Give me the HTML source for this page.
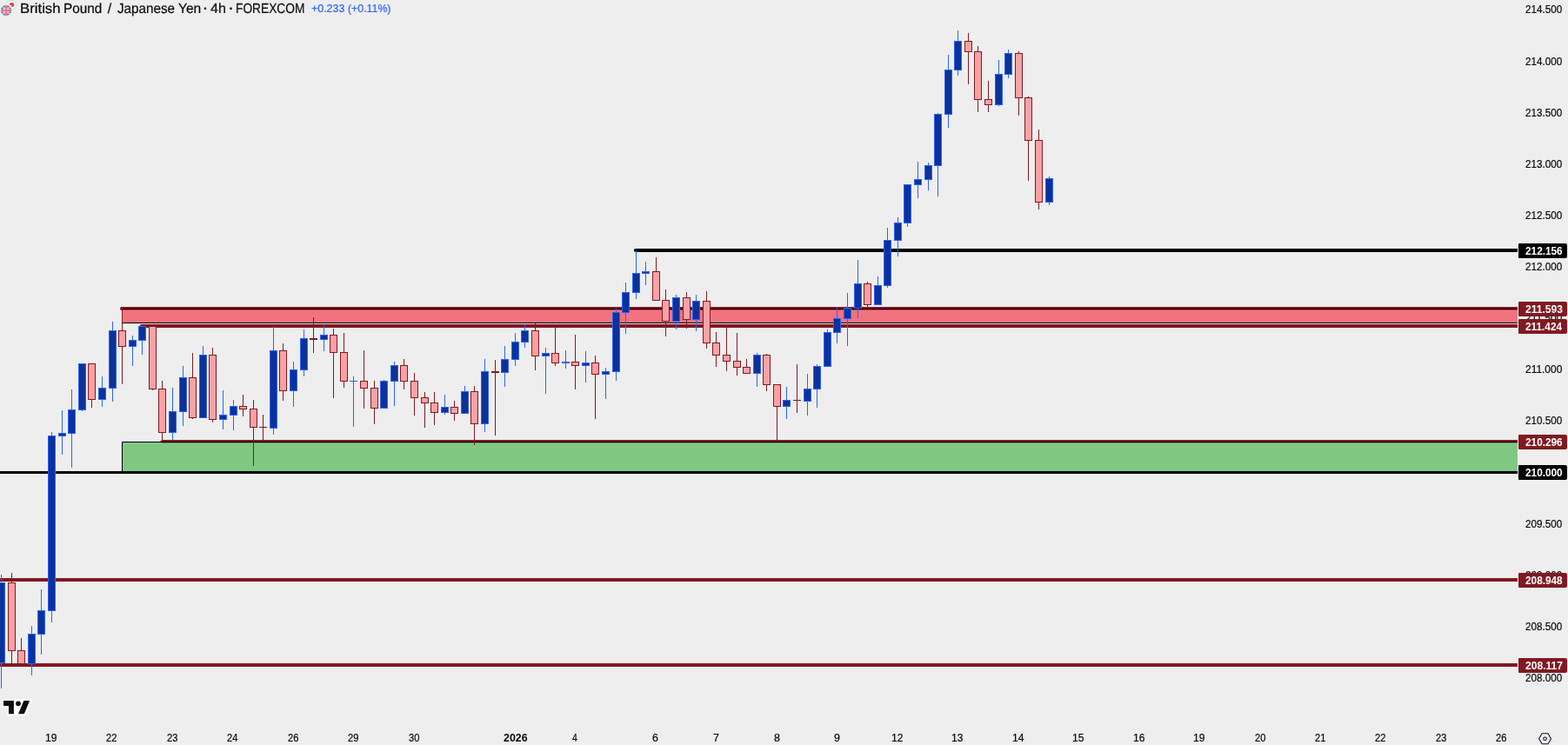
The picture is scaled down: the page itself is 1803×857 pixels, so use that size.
<!DOCTYPE html>
<html lang="en"><head><meta charset="utf-8"><title>GBPJPY 4h chart</title>
<style>
html,body{margin:0;padding:0;background:#eeeeee;}
body{width:1803px;height:857px;overflow:hidden;position:relative;font-family:"Liberation Sans", sans-serif;color:#131722;}
#c{position:absolute;left:0;top:0;width:1803px;height:857px;overflow:hidden;background:#eeeeee;}
svg{position:absolute;left:0;top:0;display:block}
.pb{position:absolute;left:1746px;width:56px;height:17px;border-radius:1px 2px 2px 1px}
.t{position:absolute;line-height:20px;white-space:nowrap;transform-origin:0 0;display:block;-webkit-text-stroke:0.22px currentColor}
</style></head>
<body><div id="c">
<svg width="1803" height="857" viewBox="0 0 1803 857">
<rect x="0" y="665" width="1745" height="4" fill="#801922"/>
<rect x="0" y="763" width="1745" height="4" fill="#801922"/>
<rect x="140.5" y="508.5" width="1607.5" height="35" fill="#81c784" stroke="#000" stroke-width="1"/>
<rect x="0" y="542" width="1745" height="3" fill="#000"/>
<path d="M186 506 H1745 V508 H184 Z" fill="#801922"/>
<rect x="185" y="508" width="1560" height="1" fill="#000"/>
<rect x="186" y="509" width="1559" height="1" fill="#6f9a5c"/>
<path d="M139.9 355 H1747" stroke="#801922" stroke-width="4" stroke-linecap="round" fill="none"/>
<rect x="140.5" y="355.5" width="1607.5" height="16" fill="#f1737f" stroke="#000" stroke-width="1"/>
<rect x="141" y="356" width="1604" height="1" fill="#e03a4a"/>
<path d="M162.9 375 H1747" stroke="#801922" stroke-width="4" stroke-linecap="round" fill="none"/>
<path d="M730.9 288 H1747" stroke="#000" stroke-width="4" stroke-linecap="round" fill="none"/>
<g shape-rendering="crispEdges">
<rect x="1" y="661" width="1" height="9" fill="#2962ff"/>
<rect x="1" y="763" width="1" height="29" fill="#2962ff"/>
<rect x="0" y="670" width="6" height="93" fill="#2962ff"/>
<rect x="0" y="671" width="5" height="91" fill="#0c3299"/>
<rect x="13" y="659" width="1" height="11" fill="#801922"/>
<rect x="13" y="749" width="1" height="16" fill="#801922"/>
<rect x="9" y="670" width="9" height="79" fill="#801922"/>
<rect x="10" y="671" width="7" height="77" fill="#faa1a4"/>
<rect x="24" y="734" width="1" height="14" fill="#801922"/>
<rect x="20" y="748" width="9" height="16" fill="#801922"/>
<rect x="21" y="749" width="7" height="14" fill="#faa1a4"/>
<rect x="36" y="720" width="1" height="9" fill="#2962ff"/>
<rect x="36" y="764" width="1" height="13" fill="#2962ff"/>
<rect x="32" y="729" width="9" height="35" fill="#2962ff"/>
<rect x="33" y="730" width="7" height="33" fill="#0c3299"/>
<rect x="47" y="678" width="1" height="24" fill="#2962ff"/>
<rect x="47" y="730" width="1" height="23" fill="#2962ff"/>
<rect x="43" y="702" width="9" height="28" fill="#2962ff"/>
<rect x="44" y="703" width="7" height="26" fill="#0c3299"/>
<rect x="59" y="497" width="1" height="4" fill="#2962ff"/>
<rect x="59" y="703" width="1" height="13" fill="#2962ff"/>
<rect x="55" y="501" width="9" height="202" fill="#2962ff"/>
<rect x="56" y="502" width="7" height="200" fill="#0c3299"/>
<rect x="71" y="472" width="1" height="26" fill="#2962ff"/>
<rect x="71" y="502" width="1" height="21" fill="#2962ff"/>
<rect x="67" y="498" width="9" height="4" fill="#2962ff"/>
<rect x="68" y="499" width="7" height="2" fill="#0c3299"/>
<rect x="82" y="448" width="1" height="23" fill="#2962ff"/>
<rect x="82" y="499" width="1" height="39" fill="#2962ff"/>
<rect x="78" y="471" width="9" height="28" fill="#2962ff"/>
<rect x="79" y="472" width="7" height="26" fill="#0c3299"/>
<rect x="94" y="472" width="1" height="1" fill="#2962ff"/>
<rect x="90" y="418" width="9" height="54" fill="#2962ff"/>
<rect x="91" y="419" width="7" height="52" fill="#0c3299"/>
<rect x="105" y="460" width="1" height="9" fill="#801922"/>
<rect x="101" y="418" width="9" height="42" fill="#801922"/>
<rect x="102" y="419" width="7" height="40" fill="#faa1a4"/>
<rect x="117" y="433" width="1" height="13" fill="#2962ff"/>
<rect x="117" y="460" width="1" height="8" fill="#2962ff"/>
<rect x="113" y="446" width="9" height="14" fill="#2962ff"/>
<rect x="114" y="447" width="7" height="12" fill="#0c3299"/>
<rect x="129" y="370" width="1" height="10" fill="#2962ff"/>
<rect x="129" y="447" width="1" height="15" fill="#2962ff"/>
<rect x="125" y="380" width="9" height="67" fill="#2962ff"/>
<rect x="126" y="381" width="7" height="65" fill="#0c3299"/>
<rect x="140" y="355" width="1" height="25" fill="#801922"/>
<rect x="140" y="399" width="1" height="43" fill="#801922"/>
<rect x="136" y="380" width="9" height="19" fill="#801922"/>
<rect x="137" y="381" width="7" height="17" fill="#faa1a4"/>
<rect x="152" y="386" width="1" height="5" fill="#2962ff"/>
<rect x="152" y="399" width="1" height="22" fill="#2962ff"/>
<rect x="148" y="391" width="9" height="8" fill="#2962ff"/>
<rect x="149" y="392" width="7" height="6" fill="#0c3299"/>
<rect x="163" y="392" width="1" height="16" fill="#2962ff"/>
<rect x="159" y="375" width="9" height="17" fill="#2962ff"/>
<rect x="160" y="376" width="7" height="15" fill="#0c3299"/>
<rect x="175" y="448" width="1" height="1" fill="#801922"/>
<rect x="171" y="375" width="9" height="73" fill="#801922"/>
<rect x="172" y="376" width="7" height="71" fill="#faa1a4"/>
<rect x="186" y="438" width="1" height="9" fill="#801922"/>
<rect x="186" y="498" width="1" height="10" fill="#801922"/>
<rect x="182" y="447" width="9" height="51" fill="#801922"/>
<rect x="183" y="448" width="7" height="49" fill="#faa1a4"/>
<rect x="198" y="446" width="1" height="27" fill="#2962ff"/>
<rect x="198" y="498" width="1" height="8" fill="#2962ff"/>
<rect x="194" y="473" width="9" height="25" fill="#2962ff"/>
<rect x="195" y="474" width="7" height="23" fill="#0c3299"/>
<rect x="210" y="421" width="1" height="13" fill="#2962ff"/>
<rect x="210" y="474" width="1" height="16" fill="#2962ff"/>
<rect x="206" y="434" width="9" height="40" fill="#2962ff"/>
<rect x="207" y="435" width="7" height="38" fill="#0c3299"/>
<rect x="221" y="406" width="1" height="28" fill="#801922"/>
<rect x="221" y="481" width="1" height="1" fill="#801922"/>
<rect x="217" y="434" width="9" height="47" fill="#801922"/>
<rect x="218" y="435" width="7" height="45" fill="#faa1a4"/>
<rect x="233" y="398" width="1" height="10" fill="#2962ff"/>
<rect x="229" y="408" width="9" height="73" fill="#2962ff"/>
<rect x="230" y="409" width="7" height="71" fill="#0c3299"/>
<rect x="244" y="400" width="1" height="8" fill="#801922"/>
<rect x="244" y="483" width="1" height="3" fill="#801922"/>
<rect x="240" y="408" width="9" height="75" fill="#801922"/>
<rect x="241" y="409" width="7" height="73" fill="#faa1a4"/>
<rect x="256" y="449" width="1" height="28" fill="#2962ff"/>
<rect x="256" y="483" width="1" height="11" fill="#2962ff"/>
<rect x="252" y="477" width="9" height="6" fill="#2962ff"/>
<rect x="253" y="478" width="7" height="4" fill="#0c3299"/>
<rect x="268" y="460" width="1" height="7" fill="#2962ff"/>
<rect x="268" y="478" width="1" height="17" fill="#2962ff"/>
<rect x="264" y="467" width="9" height="11" fill="#2962ff"/>
<rect x="265" y="468" width="7" height="9" fill="#0c3299"/>
<rect x="279" y="454" width="1" height="13" fill="#801922"/>
<rect x="279" y="471" width="1" height="8" fill="#801922"/>
<rect x="275" y="467" width="9" height="4" fill="#801922"/>
<rect x="276" y="468" width="7" height="2" fill="#faa1a4"/>
<rect x="291" y="460" width="1" height="10" fill="#801922"/>
<rect x="291" y="492" width="1" height="44" fill="#801922"/>
<rect x="287" y="470" width="9" height="22" fill="#801922"/>
<rect x="288" y="471" width="7" height="20" fill="#faa1a4"/>
<rect x="302" y="477" width="1" height="14" fill="#801922"/>
<rect x="302" y="492" width="1" height="15" fill="#801922"/>
<rect x="298" y="491" width="9" height="1" fill="#801922"/>
<rect x="314" y="375" width="1" height="28" fill="#2962ff"/>
<rect x="314" y="493" width="1" height="7" fill="#2962ff"/>
<rect x="310" y="403" width="9" height="90" fill="#2962ff"/>
<rect x="311" y="404" width="7" height="88" fill="#0c3299"/>
<rect x="325" y="395" width="1" height="8" fill="#801922"/>
<rect x="325" y="450" width="1" height="11" fill="#801922"/>
<rect x="321" y="403" width="9" height="47" fill="#801922"/>
<rect x="322" y="404" width="7" height="45" fill="#faa1a4"/>
<rect x="337" y="416" width="1" height="9" fill="#2962ff"/>
<rect x="337" y="450" width="1" height="18" fill="#2962ff"/>
<rect x="333" y="425" width="9" height="25" fill="#2962ff"/>
<rect x="334" y="426" width="7" height="23" fill="#0c3299"/>
<rect x="349" y="379" width="1" height="10" fill="#2962ff"/>
<rect x="349" y="426" width="1" height="7" fill="#2962ff"/>
<rect x="345" y="389" width="9" height="37" fill="#2962ff"/>
<rect x="346" y="390" width="7" height="35" fill="#0c3299"/>
<rect x="360" y="365" width="1" height="24" fill="#801922"/>
<rect x="360" y="391" width="1" height="15" fill="#801922"/>
<rect x="356" y="389" width="9" height="2" fill="#801922"/>
<rect x="372" y="374" width="1" height="11" fill="#2962ff"/>
<rect x="372" y="391" width="1" height="13" fill="#2962ff"/>
<rect x="368" y="385" width="9" height="6" fill="#2962ff"/>
<rect x="369" y="386" width="7" height="4" fill="#0c3299"/>
<rect x="383" y="378" width="1" height="7" fill="#801922"/>
<rect x="383" y="406" width="1" height="52" fill="#801922"/>
<rect x="379" y="385" width="9" height="21" fill="#801922"/>
<rect x="380" y="386" width="7" height="19" fill="#faa1a4"/>
<rect x="395" y="383" width="1" height="22" fill="#801922"/>
<rect x="395" y="439" width="1" height="7" fill="#801922"/>
<rect x="391" y="405" width="9" height="34" fill="#801922"/>
<rect x="392" y="406" width="7" height="32" fill="#faa1a4"/>
<rect x="406" y="433" width="1" height="5" fill="#2962ff"/>
<rect x="406" y="439" width="1" height="52" fill="#2962ff"/>
<rect x="402" y="438" width="9" height="1" fill="#2962ff"/>
<rect x="418" y="403" width="1" height="35" fill="#801922"/>
<rect x="418" y="447" width="1" height="23" fill="#801922"/>
<rect x="414" y="438" width="9" height="9" fill="#801922"/>
<rect x="415" y="439" width="7" height="7" fill="#faa1a4"/>
<rect x="430" y="438" width="1" height="8" fill="#801922"/>
<rect x="430" y="470" width="1" height="18" fill="#801922"/>
<rect x="426" y="446" width="9" height="24" fill="#801922"/>
<rect x="427" y="447" width="7" height="22" fill="#faa1a4"/>
<rect x="441" y="437" width="1" height="1" fill="#2962ff"/>
<rect x="437" y="438" width="9" height="32" fill="#2962ff"/>
<rect x="438" y="439" width="7" height="30" fill="#0c3299"/>
<rect x="453" y="416" width="1" height="4" fill="#2962ff"/>
<rect x="453" y="439" width="1" height="28" fill="#2962ff"/>
<rect x="449" y="420" width="9" height="19" fill="#2962ff"/>
<rect x="450" y="421" width="7" height="17" fill="#0c3299"/>
<rect x="464" y="413" width="1" height="7" fill="#801922"/>
<rect x="464" y="439" width="1" height="9" fill="#801922"/>
<rect x="460" y="420" width="9" height="19" fill="#801922"/>
<rect x="461" y="421" width="7" height="17" fill="#faa1a4"/>
<rect x="476" y="429" width="1" height="9" fill="#801922"/>
<rect x="476" y="458" width="1" height="20" fill="#801922"/>
<rect x="472" y="438" width="9" height="20" fill="#801922"/>
<rect x="473" y="439" width="7" height="18" fill="#faa1a4"/>
<rect x="488" y="451" width="1" height="6" fill="#801922"/>
<rect x="488" y="464" width="1" height="28" fill="#801922"/>
<rect x="484" y="457" width="9" height="7" fill="#801922"/>
<rect x="485" y="458" width="7" height="5" fill="#faa1a4"/>
<rect x="499" y="451" width="1" height="12" fill="#801922"/>
<rect x="499" y="475" width="1" height="14" fill="#801922"/>
<rect x="495" y="463" width="9" height="12" fill="#801922"/>
<rect x="496" y="464" width="7" height="10" fill="#faa1a4"/>
<rect x="511" y="454" width="1" height="14" fill="#2962ff"/>
<rect x="511" y="475" width="1" height="2" fill="#2962ff"/>
<rect x="507" y="468" width="9" height="7" fill="#2962ff"/>
<rect x="508" y="469" width="7" height="5" fill="#0c3299"/>
<rect x="522" y="461" width="1" height="7" fill="#801922"/>
<rect x="522" y="476" width="1" height="8" fill="#801922"/>
<rect x="518" y="468" width="9" height="8" fill="#801922"/>
<rect x="519" y="469" width="7" height="6" fill="#faa1a4"/>
<rect x="534" y="444" width="1" height="6" fill="#2962ff"/>
<rect x="530" y="450" width="9" height="26" fill="#2962ff"/>
<rect x="531" y="451" width="7" height="24" fill="#0c3299"/>
<rect x="545" y="444" width="1" height="6" fill="#801922"/>
<rect x="545" y="488" width="1" height="24" fill="#801922"/>
<rect x="541" y="450" width="9" height="38" fill="#801922"/>
<rect x="542" y="451" width="7" height="36" fill="#faa1a4"/>
<rect x="557" y="413" width="1" height="14" fill="#2962ff"/>
<rect x="557" y="488" width="1" height="9" fill="#2962ff"/>
<rect x="553" y="427" width="9" height="61" fill="#2962ff"/>
<rect x="554" y="428" width="7" height="59" fill="#0c3299"/>
<rect x="569" y="414" width="1" height="13" fill="#801922"/>
<rect x="569" y="429" width="1" height="72" fill="#801922"/>
<rect x="565" y="427" width="9" height="2" fill="#801922"/>
<rect x="580" y="398" width="1" height="15" fill="#2962ff"/>
<rect x="580" y="429" width="1" height="16" fill="#2962ff"/>
<rect x="576" y="413" width="9" height="16" fill="#2962ff"/>
<rect x="577" y="414" width="7" height="14" fill="#0c3299"/>
<rect x="592" y="383" width="1" height="10" fill="#2962ff"/>
<rect x="592" y="414" width="1" height="7" fill="#2962ff"/>
<rect x="588" y="393" width="9" height="21" fill="#2962ff"/>
<rect x="589" y="394" width="7" height="19" fill="#0c3299"/>
<rect x="603" y="373" width="1" height="7" fill="#2962ff"/>
<rect x="603" y="394" width="1" height="6" fill="#2962ff"/>
<rect x="599" y="380" width="9" height="14" fill="#2962ff"/>
<rect x="600" y="381" width="7" height="12" fill="#0c3299"/>
<rect x="615" y="372" width="1" height="8" fill="#801922"/>
<rect x="615" y="410" width="1" height="16" fill="#801922"/>
<rect x="611" y="380" width="9" height="30" fill="#801922"/>
<rect x="612" y="381" width="7" height="28" fill="#faa1a4"/>
<rect x="627" y="400" width="1" height="6" fill="#2962ff"/>
<rect x="627" y="410" width="1" height="43" fill="#2962ff"/>
<rect x="623" y="406" width="9" height="4" fill="#2962ff"/>
<rect x="624" y="407" width="7" height="2" fill="#0c3299"/>
<rect x="638" y="377" width="1" height="29" fill="#801922"/>
<rect x="638" y="418" width="1" height="3" fill="#801922"/>
<rect x="634" y="406" width="9" height="12" fill="#801922"/>
<rect x="635" y="407" width="7" height="10" fill="#faa1a4"/>
<rect x="650" y="403" width="1" height="13" fill="#2962ff"/>
<rect x="650" y="418" width="1" height="6" fill="#2962ff"/>
<rect x="646" y="416" width="9" height="2" fill="#2962ff"/>
<rect x="661" y="385" width="1" height="31" fill="#801922"/>
<rect x="661" y="421" width="1" height="27" fill="#801922"/>
<rect x="657" y="416" width="9" height="5" fill="#801922"/>
<rect x="658" y="417" width="7" height="3" fill="#faa1a4"/>
<rect x="673" y="404" width="1" height="13" fill="#2962ff"/>
<rect x="673" y="421" width="1" height="19" fill="#2962ff"/>
<rect x="669" y="417" width="9" height="4" fill="#2962ff"/>
<rect x="670" y="418" width="7" height="2" fill="#0c3299"/>
<rect x="684" y="409" width="1" height="8" fill="#801922"/>
<rect x="684" y="431" width="1" height="51" fill="#801922"/>
<rect x="680" y="417" width="9" height="14" fill="#801922"/>
<rect x="681" y="418" width="7" height="12" fill="#faa1a4"/>
<rect x="696" y="423" width="1" height="4" fill="#2962ff"/>
<rect x="696" y="431" width="1" height="28" fill="#2962ff"/>
<rect x="692" y="427" width="9" height="4" fill="#2962ff"/>
<rect x="693" y="428" width="7" height="2" fill="#0c3299"/>
<rect x="708" y="355" width="1" height="4" fill="#2962ff"/>
<rect x="708" y="428" width="1" height="10" fill="#2962ff"/>
<rect x="704" y="359" width="9" height="69" fill="#2962ff"/>
<rect x="705" y="360" width="7" height="67" fill="#0c3299"/>
<rect x="719" y="325" width="1" height="11" fill="#2962ff"/>
<rect x="719" y="360" width="1" height="24" fill="#2962ff"/>
<rect x="715" y="336" width="9" height="24" fill="#2962ff"/>
<rect x="716" y="337" width="7" height="22" fill="#0c3299"/>
<rect x="731" y="288" width="1" height="26" fill="#2962ff"/>
<rect x="731" y="337" width="1" height="7" fill="#2962ff"/>
<rect x="727" y="314" width="9" height="23" fill="#2962ff"/>
<rect x="728" y="315" width="7" height="21" fill="#0c3299"/>
<rect x="742" y="301" width="1" height="11" fill="#2962ff"/>
<rect x="742" y="315" width="1" height="13" fill="#2962ff"/>
<rect x="738" y="312" width="9" height="3" fill="#2962ff"/>
<rect x="739" y="313" width="7" height="1" fill="#0c3299"/>
<rect x="754" y="296" width="1" height="16" fill="#801922"/>
<rect x="750" y="312" width="9" height="34" fill="#801922"/>
<rect x="751" y="313" width="7" height="32" fill="#faa1a4"/>
<rect x="765" y="333" width="1" height="12" fill="#801922"/>
<rect x="765" y="370" width="1" height="17" fill="#801922"/>
<rect x="761" y="345" width="9" height="25" fill="#801922"/>
<rect x="762" y="346" width="7" height="23" fill="#faa1a4"/>
<rect x="777" y="339" width="1" height="3" fill="#2962ff"/>
<rect x="777" y="370" width="1" height="9" fill="#2962ff"/>
<rect x="773" y="342" width="9" height="28" fill="#2962ff"/>
<rect x="774" y="343" width="7" height="26" fill="#0c3299"/>
<rect x="789" y="336" width="1" height="6" fill="#801922"/>
<rect x="789" y="368" width="1" height="10" fill="#801922"/>
<rect x="785" y="342" width="9" height="26" fill="#801922"/>
<rect x="786" y="343" width="7" height="24" fill="#faa1a4"/>
<rect x="800" y="339" width="1" height="7" fill="#2962ff"/>
<rect x="800" y="368" width="1" height="13" fill="#2962ff"/>
<rect x="796" y="346" width="9" height="22" fill="#2962ff"/>
<rect x="797" y="347" width="7" height="20" fill="#0c3299"/>
<rect x="812" y="335" width="1" height="11" fill="#801922"/>
<rect x="812" y="395" width="1" height="6" fill="#801922"/>
<rect x="808" y="346" width="9" height="49" fill="#801922"/>
<rect x="809" y="347" width="7" height="47" fill="#faa1a4"/>
<rect x="823" y="382" width="1" height="12" fill="#801922"/>
<rect x="823" y="409" width="1" height="13" fill="#801922"/>
<rect x="819" y="394" width="9" height="15" fill="#801922"/>
<rect x="820" y="395" width="7" height="13" fill="#faa1a4"/>
<rect x="835" y="377" width="1" height="31" fill="#801922"/>
<rect x="835" y="416" width="1" height="11" fill="#801922"/>
<rect x="831" y="408" width="9" height="8" fill="#801922"/>
<rect x="832" y="409" width="7" height="6" fill="#faa1a4"/>
<rect x="847" y="383" width="1" height="32" fill="#801922"/>
<rect x="847" y="423" width="1" height="9" fill="#801922"/>
<rect x="843" y="415" width="9" height="8" fill="#801922"/>
<rect x="844" y="416" width="7" height="6" fill="#faa1a4"/>
<rect x="858" y="413" width="1" height="9" fill="#801922"/>
<rect x="854" y="422" width="9" height="8" fill="#801922"/>
<rect x="855" y="423" width="7" height="6" fill="#faa1a4"/>
<rect x="870" y="406" width="1" height="2" fill="#2962ff"/>
<rect x="870" y="430" width="1" height="15" fill="#2962ff"/>
<rect x="866" y="408" width="9" height="22" fill="#2962ff"/>
<rect x="867" y="409" width="7" height="20" fill="#0c3299"/>
<rect x="881" y="407" width="1" height="1" fill="#801922"/>
<rect x="881" y="443" width="1" height="7" fill="#801922"/>
<rect x="877" y="408" width="9" height="35" fill="#801922"/>
<rect x="878" y="409" width="7" height="33" fill="#faa1a4"/>
<rect x="893" y="468" width="1" height="39" fill="#801922"/>
<rect x="889" y="442" width="9" height="26" fill="#801922"/>
<rect x="890" y="443" width="7" height="24" fill="#faa1a4"/>
<rect x="904" y="445" width="1" height="15" fill="#2962ff"/>
<rect x="904" y="468" width="1" height="14" fill="#2962ff"/>
<rect x="900" y="460" width="9" height="8" fill="#2962ff"/>
<rect x="901" y="461" width="7" height="6" fill="#0c3299"/>
<rect x="916" y="419" width="1" height="41" fill="#801922"/>
<rect x="916" y="461" width="1" height="14" fill="#801922"/>
<rect x="912" y="460" width="9" height="1" fill="#801922"/>
<rect x="928" y="430" width="1" height="17" fill="#2962ff"/>
<rect x="928" y="462" width="1" height="16" fill="#2962ff"/>
<rect x="924" y="447" width="9" height="15" fill="#2962ff"/>
<rect x="925" y="448" width="7" height="13" fill="#0c3299"/>
<rect x="939" y="419" width="1" height="2" fill="#2962ff"/>
<rect x="939" y="448" width="1" height="21" fill="#2962ff"/>
<rect x="935" y="421" width="9" height="27" fill="#2962ff"/>
<rect x="936" y="422" width="7" height="25" fill="#0c3299"/>
<rect x="951" y="379" width="1" height="3" fill="#2962ff"/>
<rect x="947" y="382" width="9" height="40" fill="#2962ff"/>
<rect x="948" y="383" width="7" height="38" fill="#0c3299"/>
<rect x="962" y="353" width="1" height="13" fill="#2962ff"/>
<rect x="962" y="383" width="1" height="12" fill="#2962ff"/>
<rect x="958" y="366" width="9" height="17" fill="#2962ff"/>
<rect x="959" y="367" width="7" height="15" fill="#0c3299"/>
<rect x="974" y="337" width="1" height="17" fill="#2962ff"/>
<rect x="974" y="367" width="1" height="31" fill="#2962ff"/>
<rect x="970" y="354" width="9" height="13" fill="#2962ff"/>
<rect x="971" y="355" width="7" height="11" fill="#0c3299"/>
<rect x="986" y="299" width="1" height="27" fill="#2962ff"/>
<rect x="986" y="355" width="1" height="11" fill="#2962ff"/>
<rect x="982" y="326" width="9" height="29" fill="#2962ff"/>
<rect x="983" y="327" width="7" height="27" fill="#0c3299"/>
<rect x="997" y="324" width="1" height="2" fill="#801922"/>
<rect x="997" y="351" width="1" height="2" fill="#801922"/>
<rect x="993" y="326" width="9" height="25" fill="#801922"/>
<rect x="994" y="327" width="7" height="23" fill="#faa1a4"/>
<rect x="1009" y="318" width="1" height="10" fill="#2962ff"/>
<rect x="1005" y="328" width="9" height="23" fill="#2962ff"/>
<rect x="1006" y="329" width="7" height="21" fill="#0c3299"/>
<rect x="1020" y="262" width="1" height="14" fill="#2962ff"/>
<rect x="1020" y="329" width="1" height="2" fill="#2962ff"/>
<rect x="1016" y="276" width="9" height="53" fill="#2962ff"/>
<rect x="1017" y="277" width="7" height="51" fill="#0c3299"/>
<rect x="1032" y="250" width="1" height="6" fill="#2962ff"/>
<rect x="1032" y="277" width="1" height="18" fill="#2962ff"/>
<rect x="1028" y="256" width="9" height="21" fill="#2962ff"/>
<rect x="1029" y="257" width="7" height="19" fill="#0c3299"/>
<rect x="1043" y="257" width="1" height="4" fill="#2962ff"/>
<rect x="1039" y="212" width="9" height="45" fill="#2962ff"/>
<rect x="1040" y="213" width="7" height="43" fill="#0c3299"/>
<rect x="1055" y="186" width="1" height="20" fill="#2962ff"/>
<rect x="1055" y="213" width="1" height="15" fill="#2962ff"/>
<rect x="1051" y="206" width="9" height="7" fill="#2962ff"/>
<rect x="1052" y="207" width="7" height="5" fill="#0c3299"/>
<rect x="1067" y="187" width="1" height="3" fill="#2962ff"/>
<rect x="1067" y="207" width="1" height="12" fill="#2962ff"/>
<rect x="1063" y="190" width="9" height="17" fill="#2962ff"/>
<rect x="1064" y="191" width="7" height="15" fill="#0c3299"/>
<rect x="1078" y="130" width="1" height="1" fill="#2962ff"/>
<rect x="1078" y="191" width="1" height="35" fill="#2962ff"/>
<rect x="1074" y="131" width="9" height="60" fill="#2962ff"/>
<rect x="1075" y="132" width="7" height="58" fill="#0c3299"/>
<rect x="1090" y="63" width="1" height="17" fill="#2962ff"/>
<rect x="1090" y="132" width="1" height="15" fill="#2962ff"/>
<rect x="1086" y="80" width="9" height="52" fill="#2962ff"/>
<rect x="1087" y="81" width="7" height="50" fill="#0c3299"/>
<rect x="1101" y="35" width="1" height="12" fill="#2962ff"/>
<rect x="1101" y="81" width="1" height="6" fill="#2962ff"/>
<rect x="1097" y="47" width="9" height="34" fill="#2962ff"/>
<rect x="1098" y="48" width="7" height="32" fill="#0c3299"/>
<rect x="1113" y="38" width="1" height="9" fill="#801922"/>
<rect x="1113" y="60" width="1" height="37" fill="#801922"/>
<rect x="1109" y="47" width="9" height="13" fill="#801922"/>
<rect x="1110" y="48" width="7" height="11" fill="#faa1a4"/>
<rect x="1124" y="53" width="1" height="6" fill="#801922"/>
<rect x="1124" y="115" width="1" height="14" fill="#801922"/>
<rect x="1120" y="59" width="9" height="56" fill="#801922"/>
<rect x="1121" y="60" width="7" height="54" fill="#faa1a4"/>
<rect x="1136" y="93" width="1" height="21" fill="#801922"/>
<rect x="1136" y="121" width="1" height="8" fill="#801922"/>
<rect x="1132" y="114" width="9" height="7" fill="#801922"/>
<rect x="1133" y="115" width="7" height="5" fill="#faa1a4"/>
<rect x="1148" y="69" width="1" height="16" fill="#2962ff"/>
<rect x="1148" y="121" width="1" height="1" fill="#2962ff"/>
<rect x="1144" y="85" width="9" height="36" fill="#2962ff"/>
<rect x="1145" y="86" width="7" height="34" fill="#0c3299"/>
<rect x="1159" y="57" width="1" height="4" fill="#2962ff"/>
<rect x="1159" y="86" width="1" height="4" fill="#2962ff"/>
<rect x="1155" y="61" width="9" height="25" fill="#2962ff"/>
<rect x="1156" y="62" width="7" height="23" fill="#0c3299"/>
<rect x="1171" y="59" width="1" height="2" fill="#801922"/>
<rect x="1171" y="113" width="1" height="20" fill="#801922"/>
<rect x="1167" y="61" width="9" height="52" fill="#801922"/>
<rect x="1168" y="62" width="7" height="50" fill="#faa1a4"/>
<rect x="1182" y="111" width="1" height="1" fill="#801922"/>
<rect x="1182" y="162" width="1" height="46" fill="#801922"/>
<rect x="1178" y="112" width="9" height="50" fill="#801922"/>
<rect x="1179" y="113" width="7" height="48" fill="#faa1a4"/>
<rect x="1194" y="149" width="1" height="12" fill="#801922"/>
<rect x="1194" y="233" width="1" height="8" fill="#801922"/>
<rect x="1190" y="161" width="9" height="72" fill="#801922"/>
<rect x="1191" y="162" width="7" height="70" fill="#faa1a4"/>
<rect x="1206" y="203" width="1" height="2" fill="#2962ff"/>
<rect x="1206" y="233" width="1" height="3" fill="#2962ff"/>
<rect x="1202" y="205" width="9" height="28" fill="#2962ff"/>
<rect x="1203" y="206" width="7" height="26" fill="#0c3299"/>
</g>
<rect x="1745" y="0" width="58" height="857" fill="#eeeeee"/>
<rect x="0" y="835" width="1803" height="22" fill="#eeeeee"/>
<rect x="1745" y="0" width="1" height="857" fill="#eff0f0"/>
<rect x="0" y="835" width="1803" height="1" fill="#eff0f0"/>
<path d="M2 804.2 H37 L29.6 823 H8 V813.8 H2 Z" fill="#fff"/>
<g transform="translate(4,802.6) scale(0.85)" fill="#0d0d0d"><path d="M14 22H7V11H0V4h14z"/><circle cx="20" cy="7.9" r="3.4"/><path d="M28 22h-8l7.5-18h8z"/></g>
<g fill="none" stroke="#131722" stroke-width="1.1"><path d="M1769.6 849.75 L1773.08 843.75 H1780.02 L1783.5 849.75 L1780.02 855.75 H1773.08 Z" stroke-linejoin="round"/><circle cx="1776.55" cy="849.75" r="1.8"/></g>
<g><circle cx="13.05" cy="5.8" r="5.7" fill="#f0f3fa" stroke="#c9ccd3" stroke-width="0.6"/><circle cx="13.4" cy="5.6" r="2.7" fill="#f23645"/><circle cx="7" cy="12" r="8.1" fill="#eeeeee"/><clipPath id="uk"><circle cx="7" cy="12" r="6"/></clipPath><g clip-path="url(#uk)"><rect x="1" y="6" width="12" height="12" fill="#1e53a8"/><path d="M1 6 L13 18 M13 6 L1 18" stroke="#fff" stroke-width="1.9"/><path d="M1 6 L13 18 M13 6 L1 18" stroke="#f7525f" stroke-width="0.8"/><path d="M7 6 V18 M1 12 H13" stroke="#fff" stroke-width="2.9"/><path d="M7 6 V18 M1 12 H13" stroke="#f7727a" stroke-width="2.1"/></g></g>
</svg>
<span class="t" style="left:22.50px;top:1px;font-size:16px;font-weight:400;color:#0a0a0a;transform:scaleX(1.0469);text-rendering:geometricPrecision;">British</span>
<span class="t" style="left:73.45px;top:1px;font-size:16px;font-weight:400;color:#0a0a0a;transform:scaleX(0.9585);text-rendering:geometricPrecision;">Pound</span>
<span class="t" style="left:123.68px;top:1px;font-size:16px;font-weight:400;color:#0a0a0a;transform:scaleX(1.0000);text-rendering:geometricPrecision;">/</span>
<span class="t" style="left:135.01px;top:1px;font-size:16px;font-weight:400;color:#0a0a0a;transform:scaleX(0.9518);text-rendering:geometricPrecision;">Japanese</span>
<span class="t" style="left:205.21px;top:1px;font-size:16px;font-weight:400;color:#0a0a0a;transform:scaleX(0.9724);text-rendering:geometricPrecision;">Yen</span>
<span class="t" style="left:233.73px;top:0px;font-size:16px;font-weight:700;color:#0a0a0a;transform:scaleX(1.0000);-webkit-text-stroke:0;">·</span>
<span class="t" style="left:242.30px;top:1px;font-size:16px;font-weight:400;color:#0a0a0a;transform:scaleX(1.0061);text-rendering:geometricPrecision;">4h</span>
<span class="t" style="left:263.20px;top:0px;font-size:16px;font-weight:700;color:#0a0a0a;transform:scaleX(1.0000);-webkit-text-stroke:0;">·</span>
<span class="t" style="left:271.18px;top:1px;font-size:16px;font-weight:400;color:#0a0a0a;transform:scaleX(0.8591);text-rendering:geometricPrecision;">FOREXCOM</span>
<span class="t" style="left:357.51px;top:0px;font-size:13px;font-weight:400;color:#2962ff;transform:scaleX(0.9543);">+0.233</span>
<span class="t" style="left:399.97px;top:0px;font-size:13px;font-weight:400;color:#2962ff;transform:scaleX(0.9484);">(+0.11%)</span>
<span class="t" style="left:1754.21px;top:1px;font-size:12px;font-weight:400;color:#0a0a0a;transform:scaleX(0.9717);">214.500</span>
<span class="t" style="left:1754.21px;top:61px;font-size:12px;font-weight:400;color:#0a0a0a;transform:scaleX(0.9717);">214.000</span>
<span class="t" style="left:1754.21px;top:120px;font-size:12px;font-weight:400;color:#0a0a0a;transform:scaleX(0.9717);">213.500</span>
<span class="t" style="left:1754.21px;top:179px;font-size:12px;font-weight:400;color:#0a0a0a;transform:scaleX(0.9717);">213.000</span>
<span class="t" style="left:1754.21px;top:238px;font-size:12px;font-weight:400;color:#0a0a0a;transform:scaleX(0.9717);">212.500</span>
<span class="t" style="left:1754.21px;top:297px;font-size:12px;font-weight:400;color:#0a0a0a;transform:scaleX(0.9717);">212.000</span>
<span class="t" style="left:1754.20px;top:356px;font-size:12px;font-weight:400;color:#0a0a0a;transform:scaleX(0.9952);">211.500</span>
<span class="t" style="left:1754.20px;top:415px;font-size:12px;font-weight:400;color:#0a0a0a;transform:scaleX(0.9952);">211.000</span>
<span class="t" style="left:1754.21px;top:474px;font-size:12px;font-weight:400;color:#0a0a0a;transform:scaleX(0.9717);">210.500</span>
<span class="t" style="left:1754.21px;top:593px;font-size:12px;font-weight:400;color:#0a0a0a;transform:scaleX(0.9717);">209.500</span>
<span class="t" style="left:1754.21px;top:652px;font-size:12px;font-weight:400;color:#0a0a0a;transform:scaleX(0.9717);">209.000</span>
<span class="t" style="left:1754.21px;top:711px;font-size:12px;font-weight:400;color:#0a0a0a;transform:scaleX(0.9717);">208.500</span>
<span class="t" style="left:1754.21px;top:770px;font-size:12px;font-weight:400;color:#0a0a0a;transform:scaleX(0.9717);">208.000</span>
<span class="t" style="left:52.34px;top:839px;font-size:12px;font-weight:400;color:#0a0a0a;transform:scaleX(1.0088);">19</span>
<span class="t" style="left:122.47px;top:839px;font-size:12px;font-weight:400;color:#0a0a0a;transform:scaleX(0.9274);">22</span>
<span class="t" style="left:191.97px;top:839px;font-size:12px;font-weight:400;color:#0a0a0a;transform:scaleX(0.9274);">23</span>
<span class="t" style="left:261.47px;top:839px;font-size:12px;font-weight:400;color:#0a0a0a;transform:scaleX(0.9274);">24</span>
<span class="t" style="left:330.97px;top:839px;font-size:12px;font-weight:400;color:#0a0a0a;transform:scaleX(0.9274);">26</span>
<span class="t" style="left:400.27px;top:839px;font-size:12px;font-weight:400;color:#0a0a0a;transform:scaleX(0.9274);">29</span>
<span class="t" style="left:469.97px;top:839px;font-size:12px;font-weight:400;color:#0a0a0a;transform:scaleX(0.9274);">30</span>
<span class="t" style="left:657.94px;top:839px;font-size:12px;font-weight:400;color:#0a0a0a;transform:scaleX(0.8750);">4</span>
<span class="t" style="left:750.39px;top:839px;font-size:12px;font-weight:400;color:#0a0a0a;transform:scaleX(1.0370);">6</span>
<span class="t" style="left:819.89px;top:839px;font-size:12px;font-weight:400;color:#0a0a0a;transform:scaleX(1.0370);">7</span>
<span class="t" style="left:889.89px;top:839px;font-size:12px;font-weight:400;color:#0a0a0a;transform:scaleX(1.0370);">8</span>
<span class="t" style="left:959.29px;top:839px;font-size:12px;font-weight:400;color:#0a0a0a;transform:scaleX(1.0370);">9</span>
<span class="t" style="left:1024.74px;top:839px;font-size:12px;font-weight:400;color:#0a0a0a;transform:scaleX(1.0088);">12</span>
<span class="t" style="left:1094.14px;top:839px;font-size:12px;font-weight:400;color:#0a0a0a;transform:scaleX(1.0088);">13</span>
<span class="t" style="left:1163.84px;top:839px;font-size:12px;font-weight:400;color:#0a0a0a;transform:scaleX(1.0088);">14</span>
<span class="t" style="left:1233.24px;top:839px;font-size:12px;font-weight:400;color:#0a0a0a;transform:scaleX(1.0088);">15</span>
<span class="t" style="left:1302.94px;top:839px;font-size:12px;font-weight:400;color:#0a0a0a;transform:scaleX(1.0088);">16</span>
<span class="t" style="left:1372.44px;top:839px;font-size:12px;font-weight:400;color:#0a0a0a;transform:scaleX(1.0088);">19</span>
<span class="t" style="left:1442.77px;top:839px;font-size:12px;font-weight:400;color:#0a0a0a;transform:scaleX(0.9274);">20</span>
<span class="t" style="left:1511.97px;top:839px;font-size:12px;font-weight:400;color:#0a0a0a;transform:scaleX(0.9274);">21</span>
<span class="t" style="left:1581.37px;top:839px;font-size:12px;font-weight:400;color:#0a0a0a;transform:scaleX(0.9274);">22</span>
<span class="t" style="left:1650.97px;top:839px;font-size:12px;font-weight:400;color:#0a0a0a;transform:scaleX(0.9274);">23</span>
<span class="t" style="left:1720.47px;top:839px;font-size:12px;font-weight:400;color:#0a0a0a;transform:scaleX(0.9274);">26</span>
<span class="t" style="left:578.59px;top:839px;font-size:12px;font-weight:700;color:#0a0a0a;transform:scaleX(1.0315);-webkit-text-stroke:0;">2026</span>
<div class="pb" style="top:280px;background:#000"></div>
<span class="t" style="left:1753.90px;top:279px;font-size:12px;font-weight:700;color:#fff;transform:scaleX(0.9835);-webkit-text-stroke:0;">212.156</span>
<div class="pb" style="top:347px;background:#801922"></div>
<span class="t" style="left:1753.90px;top:346px;font-size:12px;font-weight:700;color:#fff;transform:scaleX(1.0072);-webkit-text-stroke:0;">211.593</span>
<div class="pb" style="top:367px;background:#801922"></div>
<span class="t" style="left:1753.90px;top:366px;font-size:12px;font-weight:700;color:#fff;transform:scaleX(0.9835);-webkit-text-stroke:0;">211.424</span>
<div class="pb" style="top:500px;background:#801922"></div>
<span class="t" style="left:1753.90px;top:499px;font-size:12px;font-weight:700;color:#fff;transform:scaleX(0.9835);-webkit-text-stroke:0;">210.296</span>
<div class="pb" style="top:535px;background:#000"></div>
<span class="t" style="left:1753.90px;top:534px;font-size:12px;font-weight:700;color:#fff;transform:scaleX(0.9835);-webkit-text-stroke:0;">210.000</span>
<div class="pb" style="top:659px;background:#801922"></div>
<span class="t" style="left:1753.90px;top:658px;font-size:12px;font-weight:700;color:#fff;transform:scaleX(0.9835);-webkit-text-stroke:0;">208.948</span>
<div class="pb" style="top:757px;background:#801922"></div>
<span class="t" style="left:1753.90px;top:756px;font-size:12px;font-weight:700;color:#fff;transform:scaleX(1.0072);-webkit-text-stroke:0;">208.117</span>
</div></body></html>
